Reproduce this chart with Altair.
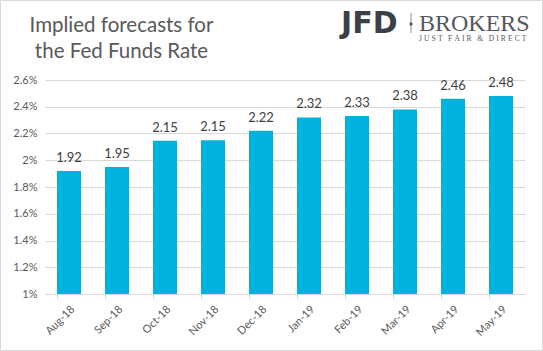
import altair as alt
import pandas as pd

months = ["Aug-18", "Sep-18", "Oct-18", "Nov-18", "Dec-18", "Jan-19", "Feb-19", "Mar-19", "Apr-19", "May-19"]
values = [1.92, 1.95, 2.145, 2.15, 2.22, 2.32, 2.33, 2.38, 2.46, 2.48]
labels = ["1.92", "1.95", "2.15", "2.15", "2.22", "2.32", "2.33", "2.38", "2.46", "2.48"]
y_ticks = [1.0, 1.2, 1.4, 1.6, 1.8, 2.0, 2.2, 2.4, 2.6]
title_lines = ["Implied forecasts for", "the Fed Funds Rate"]

df = pd.DataFrame({"month": months, "value": values, "label": labels})
one = pd.DataFrame({"a": [0]})

FONT = "Lato"
GRAY = "#595959"
BAR = "#00b2dd"

x_enc = alt.X("month:N", sort=months, title=None,
              scale=alt.Scale(paddingInner=0.5, paddingOuter=0.25),
              axis=alt.Axis(labelAngle=-45, labelColor=GRAY, labelFont=FONT, labelFontSize=11,
                            domainColor="#d9d9d9", tickColor="#d9d9d9", tickSize=5,
                            bandPosition=0, labelPadding=4, grid=False, labelOverlap=False))
y_enc = alt.Y("value:Q", title=None,
              scale=alt.Scale(domain=[1.0, 2.6], nice=False, zero=False),
              axis=alt.Axis(values=y_ticks, tickCount=20, labelExpr="format(datum.value, '.1~f') + '%'",
                            labelColor=GRAY, labelFont=FONT, labelFontSize=11, labelOverlap=False,
                            domain=False, ticks=False, gridColor="#d9d9d9", labelPadding=8))

bars = alt.Chart(df).mark_bar(color=BAR, clip=True).encode(x=x_enc, y=y_enc, y2=alt.datum(1.0))
text = alt.Chart(df).mark_text(font=FONT, fontSize=13, color="#404040", baseline="bottom", dy=-6).encode(
    x=alt.X("month:N", sort=months), y="value:Q", text="label:N")

title1 = alt.Chart(one).mark_text(font=FONT, fontSize=20.5, color=GRAY, align="center", baseline="alphabetic").encode(
    x=alt.value(76.5), y=alt.value(-48), text=alt.value(title_lines[0]))
title2 = alt.Chart(one).mark_text(font=FONT, fontSize=20.5, color=GRAY, align="center", baseline="alphabetic").encode(
    x=alt.value(76.5), y=alt.value(-22), text=alt.value(title_lines[1]))

jfd = alt.Chart(one).mark_text(font="'DejaVu Sans', Roboto, sans-serif", fontSize=30, fontWeight="bold",
                               color="#3b3f47", align="left", baseline="alphabetic").encode(
    x=alt.value(296), y=alt.value(-47), text=alt.value("JFD"))
sep = alt.Chart(one).mark_rule(color="#888888", strokeWidth=1).encode(
    x=alt.value(366), y=alt.value(-67), y2=alt.value(-47))
dot = alt.Chart(one).mark_point(shape="square", size=8, filled=True, opacity=1, color="#555555").encode(
    x=alt.value(366), y=alt.value(-56))
brokers = alt.Chart(one).mark_text(font="Liberation Serif", fontSize=24, color="#55585e",
                                   align="left", baseline="alphabetic").encode(
    x=alt.value(374), y=alt.value(-49), text=alt.value("BROKERS"))
tag = alt.Chart(one).mark_text(font="Liberation Serif", fontSize=7.5, color="#55585e",
                               align="left", baseline="alphabetic").encode(
    x=alt.value(374), y=alt.value(-39),
    text=alt.value("J\u2009\u200aU\u2009\u200aS\u2009\u200aT\u00a0\u00a0\u00a0F\u2009\u200aA\u2009\u200aI\u2009\u200aR"
                   "\u00a0\u00a0\u00a0&\u00a0\u00a0\u00a0D\u2009\u200aI\u2009\u200aR\u2009\u200aE\u2009\u200aC\u2009\u200aT"))

border = alt.Chart(one).mark_rect(fill=None, stroke="#d9d9d9", strokeWidth=1).encode(
    x=alt.value(-44.5), x2=alt.value(497.5), y=alt.value(-79.5), y2=alt.value(270.5))

chart = alt.layer(bars, text, title1, title2, jfd, sep, dot, brokers, tag, border).properties(
    width=480, height=214,
    autosize=alt.AutoSizeParams(type="none"),
    padding={"left": 45, "top": 80, "right": 18, "bottom": 57},
    background="white",
).configure_view(stroke=None)

chart.save("out.html", embed_options={"renderer": "svg", "actions": False})
